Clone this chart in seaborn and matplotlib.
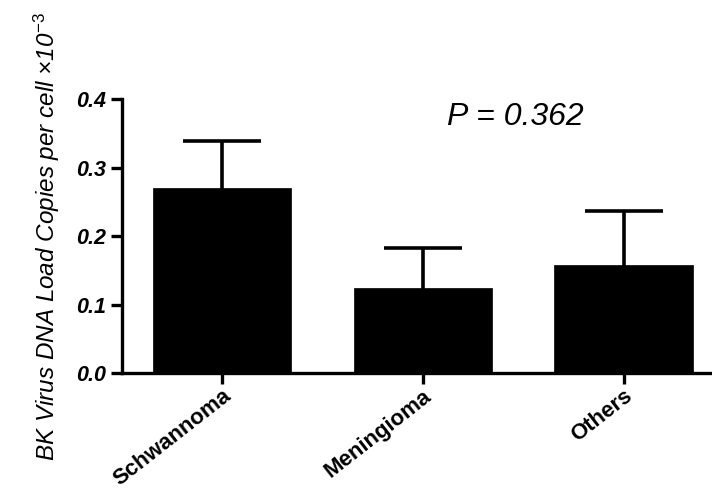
import pandas as pd
import numpy as np
import matplotlib
matplotlib.use('Agg')
import matplotlib.pyplot as plt
import seaborn as sns

# data
categories = ['Schwannoma', 'Meningioma', 'Others']
means = [0.27, 0.124, 0.158]
errors = [0.069, 0.058, 0.078]
y_ticks = [0.0, 0.1, 0.2, 0.3, 0.4]
p_label = 'P = 0.362'

sns.set_style('ticks')
plt.rcParams['font.family'] = ['Liberation Sans', 'DejaVu Sans']
plt.rcParams['mathtext.fontset'] = 'custom'
plt.rcParams['mathtext.rm'] = 'Liberation Sans'
plt.rcParams['mathtext.it'] = 'Liberation Sans:italic'
plt.rcParams['text.color'] = 'black'
plt.rcParams['axes.labelcolor'] = 'black'
plt.rcParams['xtick.color'] = 'black'
plt.rcParams['ytick.color'] = 'black'
plt.rcParams['axes.edgecolor'] = 'black'

df = pd.DataFrame({'group': categories, 'load': means})

fig = plt.figure(figsize=(7.12, 4.96), dpi=100)
ax = fig.add_axes([0.171, 0.248, 0.829, 0.552])

# error bars drawn behind the bars so only the upper half shows
ax.errorbar(np.arange(len(categories)), means, yerr=errors,
            fmt='none', ecolor='black', elinewidth=2.6, capsize=28,
            capthick=2.6, zorder=1)
sns.barplot(data=df, x='group', y='load', color='black', width=0.69,
            errorbar=None, saturation=1, edgecolor='black', linewidth=0.5,
            ax=ax, zorder=3)

ax.set_xlim(-0.5, 2.44)
ax.set_ylim(0, 0.4)
ax.set_yticks(y_ticks)
ax.set_yticklabels([f'{t:.1f}' for t in y_ticks], fontsize=15.5,
                   fontweight='bold', fontstyle='italic')
ax.set_xticks(range(len(categories)))
ax.set_xticklabels(categories, rotation=38, ha='right', rotation_mode='anchor',
                   fontsize=16, fontweight='bold')
ax.tick_params(axis='x', pad=1)
ax.set_xlabel('')
ax.set_ylabel('BK Virus DNA Load Copies per cell ×10$^{-3}$', fontsize=17.5,
              fontstyle='italic', labelpad=10)

sns.despine(ax=ax)
for s in ['left', 'bottom']:
    ax.spines[s].set_linewidth(2.4)
ax.tick_params(axis='both', width=2.4, length=8)

ax.text(1.12, 0.362, p_label, fontsize=23, fontstyle='italic')

plt.savefig('out.png', dpi=100)
